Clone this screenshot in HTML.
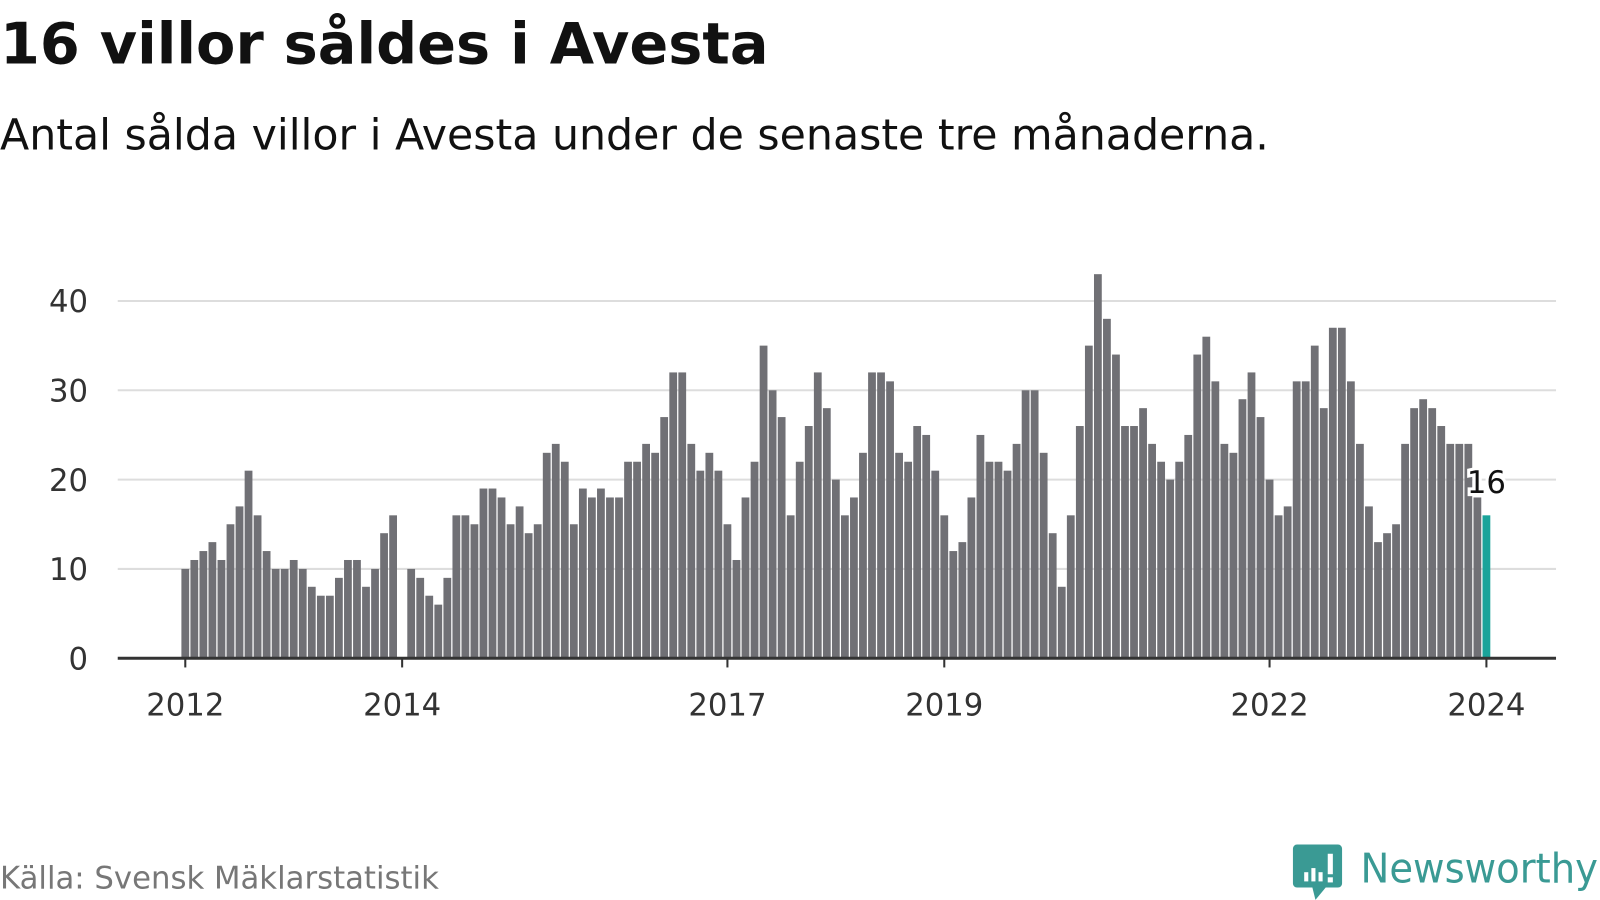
<!DOCTYPE html>
<html><head><meta charset="utf-8">
<style>
body{margin:0;background:#fff;width:1600px;height:900px;overflow:hidden;font-family:"DejaVu Sans","Liberation Sans",sans-serif;}
#wrap{position:absolute;left:0;top:0;width:1563px;height:879px;transform:scale(1.0237);transform-origin:0 0;}
.title{position:absolute;left:0;top:11px;font-size:56px;font-weight:bold;color:#111;white-space:nowrap}
.sub{position:absolute;left:0;top:107px;font-size:41.7px;color:#111;white-space:nowrap}
.src{position:absolute;left:0;top:841px;font-size:30px;color:#777;white-space:nowrap}
</style></head><body>
<div id="wrap">
<div class="title">16 villor såldes i Avesta</div>
<div class="sub">Antal sålda villor i Avesta under de senaste tre månaderna.</div>
<div class="src">Källa: Svensk Mäklarstatistik</div>
<svg width="1563" height="879" style="position:absolute;left:0;top:0" font-family="DejaVu Sans, Liberation Sans, sans-serif">
<g id="grid"></g>
<g id="bars"></g>
<g id="axes"></g>
<g>
<path d="M1267 825 h40 a4 4 0 0 1 4 4 v34 a4 4 0 0 1 -4 4 h-12 l-10 12 l-3 -12 h-15 a4 4 0 0 1 -4 -4 v-34 a4 4 0 0 1 4 -4z" fill="#3a9a94"/>
<rect x="1274" y="852" width="4" height="9" fill="#fff"/><rect x="1281" y="848" width="4" height="13" fill="#fff"/><rect x="1288" y="852" width="4" height="9" fill="#fff"/><rect x="1297" y="834" width="5" height="20" fill="#fff"/><rect x="1297" y="857" width="5" height="5" fill="#fff"/>
<text x="1329" y="862" font-size="40" fill="#3a9a94" textLength="232" lengthAdjust="spacingAndGlyphs">Newsworthy</text>
</g>
</svg>
</div>
<script>
const values=[10,11,12,13,11,15,17,21,16,12,10,10,11,10,8,7,7,9,11,11,8,10,14,16,
null,10,9,7,6,9,16,16,15,19,19,18,
15,17,14,15,23,24,22,15,19,18,19,18,
18,22,22,24,23,27,32,32,24,21,23,21,
15,11,18,22,35,30,27,16,22,26,32,28,
20,16,18,23,32,32,31,23,22,26,25,21,
16,12,13,18,25,22,22,21,24,30,30,23,
14,8,16,26,35,43,38,34,26,26,28,24,
22,20,22,25,34,36,31,24,23,29,32,27,
20,16,17,31,31,35,28,37,37,31,24,17,
13,14,15,24,28,29,28,26,24,24,24,18,16];
const yTicks=[0,10,20,30,40];
const xTickYears=[2012,2014,2017,2019,2022,2024];
const NS="http://www.w3.org/2000/svg";
const x=i=>181+i*(1271/144);
const y=v=>643-v*(349/40);
function mk(tag,attrs,parent){const e=document.createElementNS(NS,tag);for(const k in attrs)e.setAttribute(k,attrs[k]);parent.appendChild(e);return e;}
const grid=document.getElementById('grid'),bars=document.getElementById('bars'),axes=document.getElementById('axes');
yTicks.forEach(t=>{
  if(t>0){const l=mk('line',{x1:115,x2:1520,y1:y(t),y2:y(t),stroke:'#dddddd','stroke-width':2},grid);
  
  }
  const tx=mk('text',{x:86,y:y(t)+11,'text-anchor':'end','font-size':30,fill:'#333'},axes);
  tx.textContent=t;
  
  
});
values.forEach((v,i)=>{
  if(v==null)return;
  const last=i===values.length-1;
  const r=mk('rect',{x:x(i)-3.8,y:y(v),width:7.6,height:643-y(v),fill:last?'#1aa39a':'#707075'},bars);
  
  
});
const base=mk('line',{x1:115,x2:1520,y1:643,y2:643,stroke:'#333','stroke-width':3},axes);


xTickYears.forEach(yr=>{
  const i=(yr-2012)*12;
  mk('line',{x1:x(i),x2:x(i),y1:643,y2:652,stroke:'#333','stroke-width':2},axes);
  const tx=mk('text',{x:x(i),y:699,'text-anchor':'middle','font-size':30,fill:'#333'},axes);
  tx.textContent=yr;
  
  
});
const li=values.length-1;
const lbl=mk('text',{x:x(li),y:y(values[li])-22,'text-anchor':'middle','font-size':30,fill:'#111',stroke:'#fff','stroke-width':6,'paint-order':'stroke'},axes);
lbl.textContent=values[li];


</script>
</body></html>
